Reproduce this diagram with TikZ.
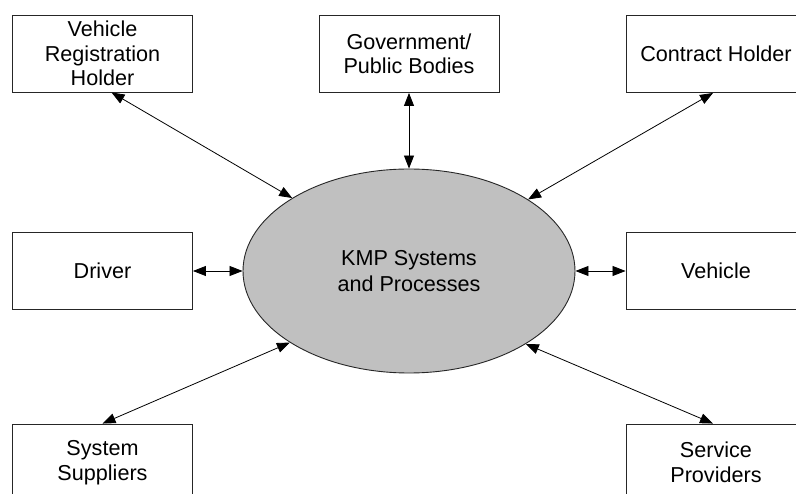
\documentclass[tikz,border=0pt]{standalone}
\usepackage{fontspec}
\setmainfont{Liberation Sans}
\usetikzlibrary{arrows.meta,shapes.geometric}
\definecolor{ellgray}{HTML}{C0C0C0}
\begin{document}
\begin{tikzpicture}[x=1pt,y=-1pt,
  box/.style={draw=black!85,line width=0.9pt,rectangle,minimum width=180pt,minimum height=77pt,inner sep=2pt,align=center,font=\fontsize{21.6}{24.5}\selectfont},
  core/.style={draw=black!85,line width=0.9pt,ellipse,fill=ellgray,minimum width=332pt,minimum height=204pt,inner sep=0pt,align=center,font=\fontsize{21.6}{25.5}\selectfont},
  link/.style={line width=0.8pt,{Triangle[length=13pt,width=10pt]}-{Triangle[length=13pt,width=10pt]}}]
\useasboundingbox (0,0) rectangle (796,494);
\node[core] (ell) at (409,271) {KMP Systems\\and Processes};
\node[box] (vrh) at (102.5,53.5) {Vehicle\\Registration\\Holder};
\node[box] (gov) at (409,54) {Government/\\Public Bodies};
\node[box] (ch) at (716,54) {Contract Holder};
\node[box] (drv) at (102.5,271) {Driver};
\node[box] (veh) at (716,271) {Vehicle};
\node[box] (ss) at (102.5,462.5) {System\\Suppliers};
\node[box] (sp) at (716,462.5) {Service\\Providers};
\draw[link] ([xshift=9pt]vrh.south) -- (ell.148.3);
\draw[link] (gov.south) -- (ell.north);
\draw[link] ([xshift=-3pt]ch.south) -- (ell.31.7);
\draw[link] (drv.east) -- (ell.west);
\draw[link] (ell.east) -- (veh.west);
\draw[link] (ss.north) -- (ell.211.9);
\draw[link] (ell.328.1) -- ([xshift=-3pt]sp.north);
\end{tikzpicture}
\end{document}
